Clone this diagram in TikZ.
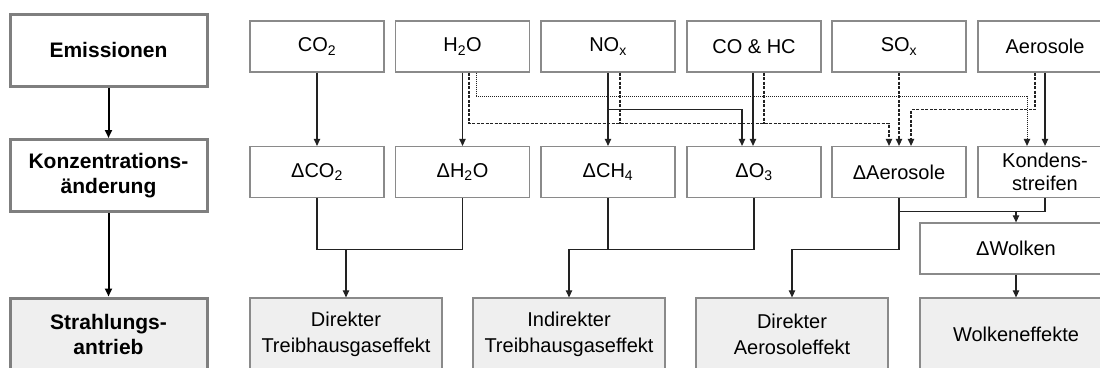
\documentclass[tikz,border=0pt]{standalone}
\usepackage{fontspec}
\setmainfont{Liberation Sans}
\usetikzlibrary{arrows.meta}
\definecolor{boxline}{HTML}{8A8A8A}
\definecolor{sideline}{HTML}{7F7F7F}
\definecolor{effectfill}{HTML}{EFEFEF}
\definecolor{wire}{HTML}{222222}
\tikzset{
  box/.style={draw=boxline, line width=1.3pt, fill=white, inner sep=0pt,
    minimum width=134pt, minimum height=51pt, align=center,
    font=\fontsize{20}{23}\selectfont},
  effect/.style={box, fill=effectfill, minimum width=192pt, minimum height=73pt,
    font=\fontsize{20}{25.5}\selectfont},
  side/.style={draw=sideline, line width=3pt, inner sep=0pt, fill=white,
    minimum width=197pt, minimum height=72pt, align=center,
    font=\fontsize{21}{25.5}\selectfont\bfseries},
  sidearrow/.style={line width=2pt, black, -{Triangle[length=8pt,width=7pt]}},
  link/.style={line width=1.1pt, wire},
  arr/.style={link, -{Triangle[length=7pt,width=6.5pt]}},
  dashedlink/.style={link, dash pattern=on 3pt off 1.5pt},
  dottedlink/.style={link, line width=1pt, dash pattern=on 1pt off 1pt},
}
\begin{document}
\begin{tikzpicture}[x=1pt, y=-1pt]
  \fill[white] (0,0) rectangle (1100,367);
  \useasboundingbox (0,0) rectangle (1100,367);
  \clip (0,0) rectangle (1100,367);

  % level labels
  \node[side] (emis) at (108.5,50) {Emissionen};
  \node[side] (konz) at (108.5,175.5) {Konzentrations-\\änderung};
  \node[side, fill=effectfill, minimum height=73pt] (strahl) at (108.5,334.5) {Strahlungs-\\antrieb};
  \draw[sidearrow] (emis.south) -- (konz.north);
  \draw[sidearrow] (konz.south) -- (strahl.north);

  % emissions
  \node[box] (co2)  at (317,46.5)  {CO\textsubscript{2}};
  \node[box] (h2o)  at (462.5,46.5) {H\textsubscript{2}O};
  \node[box] (nox)  at (608,46.5)  {NO\textsubscript{x}};
  \node[box] (cohc) at (754,46.5)  {CO \& HC};
  \node[box] (sox)  at (899,46.5)  {SO\textsubscript{x}};
  \node[box] (aero) at (1045,46.5) {Aerosole};

  % concentration changes
  \node[box] (dco2)  at (317,172)   {ΔCO\textsubscript{2}};
  \node[box] (dh2o)  at (462.5,172) {ΔH\textsubscript{2}O};
  \node[box] (dch4)  at (608,172)   {ΔCH\textsubscript{4}};
  \node[box] (do3)   at (754,172)   {ΔO\textsubscript{3}};
  \node[box] (daero) at (899,172)   {ΔAerosole};
  \node[box] (kond)  at (1045,172)  {Kondens-\\streifen};
  \node[box, minimum width=192pt] (dwolk) at (1016,248.5) {ΔWolken};

  % radiative effects
  \node[effect] (dtb)  at (346,334.5)  {Direkter\\Treibhausgaseffekt};
  \node[effect] (itb)  at (569,334.5)  {Indirekter\\Treibhausgaseffekt};
  \node[effect] (dae)  at (792,334.5)  {Direkter\\Aerosoleffekt};
  \node[effect] (wolk) at (1016,334.5) {Wolkeneffekte};

  % emissions -> concentration changes
  \draw[arr] (co2.south) -- (dco2.north);
  \draw[arr] (h2o.south) -- (dh2o.north);
  \draw[dottedlink, -{Triangle[length=7pt,width=6.5pt]}]
    ([xshift=13.5pt]h2o.south) -- ++(0,24) -| ([xshift=-18pt]kond.north);
  \draw[dashedlink, -{Triangle[length=7pt,width=6.5pt]}]
    ([xshift=6.5pt]h2o.south) -- ++(0,51) -| ([xshift=-10pt]daero.north);
  \draw[arr] (nox.south) -- (dch4.north);
  \draw[arr] ([yshift=-37pt]nox.south) -| ([xshift=-12pt]do3.north);
  \draw[dashedlink] ([xshift=12pt]nox.south) -- ++(0,51);
  \draw[arr] ([xshift=-1pt]cohc.south) -- ([xshift=-1pt]do3.north);
  \draw[dashedlink] ([xshift=10pt]cohc.south) -- ++(0,51);
  \draw[dashedlink, -{Triangle[length=7pt,width=6.5pt]}] (sox.south) -- (daero.north);
  \draw[dashedlink, -{Triangle[length=7pt,width=6.5pt]}]
    ([xshift=-10pt]aero.south) -- ++(0,37) -| ([xshift=12pt]daero.north);
  \draw[arr] (aero.south) -- (kond.north);

  % concentration changes -> radiative effects
  \coordinate (j1) at ([yshift=-51pt]dco2.south);
  \coordinate (j2) at ([yshift=-51pt]do3.south);
  \coordinate (j3) at ([yshift=-51pt]daero.south);
  \coordinate (j4) at ([yshift=-13pt]daero.south);
  \draw[link] (dco2.south) -- (j1) -| (dh2o.south);
  \draw[arr] (j1 -| dtb.north) -- (dtb.north);
  \draw[link] (dch4.south) -- (dch4.south |- j2);
  \draw[arr] (do3.south) -- (j2) -| (itb.north);
  \draw[arr] (daero.south) -- (j3) -| (dae.north);
  \draw[link] (j4) -| (kond.south);
  \draw[arr] (j4 -| dwolk.north) -- (dwolk.north);
  \draw[arr] (dwolk.south) -- (wolk.north);
\end{tikzpicture}
\end{document}
